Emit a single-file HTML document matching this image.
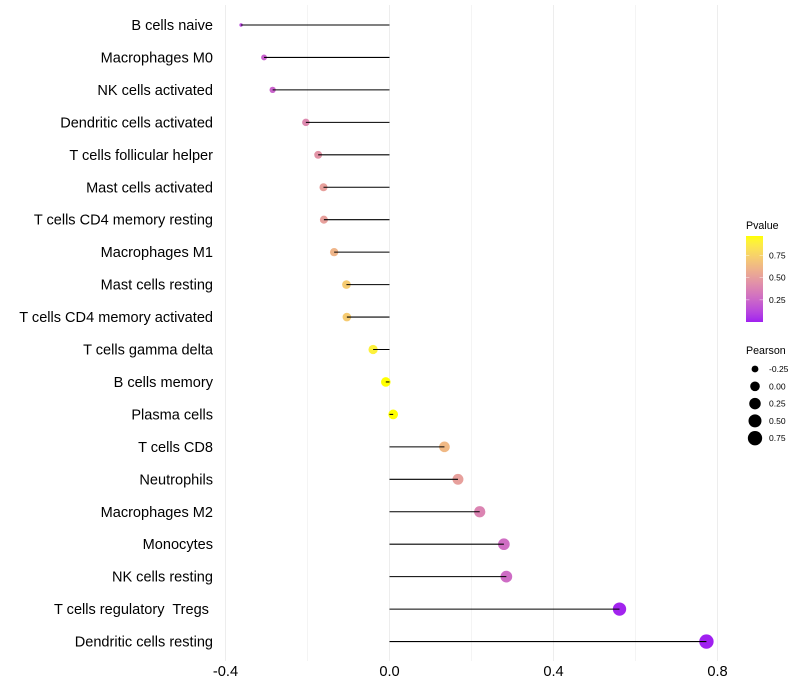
<!DOCTYPE html>
<html>
<head>
<meta charset="utf-8">
<title>Immune cell correlation lollipop chart</title>
<style>
html,body{margin:0;padding:0;background:#fff;width:800px;height:700px;overflow:hidden}
svg{display:block;font-family:"Liberation Sans",Arial,sans-serif}
</style>
</head>
<body>
<svg id="chart" width="800" height="700" viewBox="0 0 800 700" xmlns="http://www.w3.org/2000/svg">
<defs><linearGradient id="pgrad" x1="0" y1="1" x2="0" y2="0"></linearGradient></defs>
</svg>
<script>
const categories = ["B cells naive","Macrophages M0","NK cells activated","Dendritic cells activated","T cells follicular helper","Mast cells activated","T cells CD4 memory resting","Macrophages M1","Mast cells resting","T cells CD4 memory activated","T cells gamma delta","B cells memory","Plasma cells","T cells CD8","Neutrophils","Macrophages M2","Monocytes","NK cells resting","T cells regulatory  Tregs ","Dendritic cells resting"];
const pearson = [-0.362,-0.306,-0.285,-0.204,-0.174,-0.161,-0.160,-0.135,-0.105,-0.104,-0.040,-0.009,0.009,0.134,0.167,0.220,0.279,0.285,0.561,0.773];
const pvalues = [0.12,0.22,0.23,0.40,0.45,0.51,0.51,0.61,0.72,0.72,0.90,0.97,0.97,0.63,0.51,0.38,0.28,0.27,0.01,0.00];
const xTicks = [-0.4,0,0.4,0.8];
const xTickLabels = ["-0.4","0.0","0.4","0.8"];
const xMinorTicks = [-0.2,0.2,0.6];
const pTicks = [0.25,0.5,0.75];
const pTickLabels = ["0.25","0.50","0.75"];
const sizeBreaks = [-0.25,0,0.25,0.5,0.75];
const sizeLabels = ["-0.25","0.00","0.25","0.50","0.75"];

const svg = document.getElementById('chart');
const NS = 'http://www.w3.org/2000/svg';
function mk(tag, attrs, parent){
  const e = document.createElementNS(NS, tag);
  for (const k in attrs) e.setAttribute(k, attrs[k]);
  (parent || svg).appendChild(e);
  return e;
}
const xScale = v => 389.5 + v * 410;
const yScale = i => 25 + i * 32.45;
/* area scale: radius grows with the square root of the rescaled value */
const SIZE_MIN = -0.362, SIZE_MAX = 0.773;
const sizeScale = v => {
  const t = Math.min(1, Math.max(0, (v - SIZE_MIN) / (SIZE_MAX - SIZE_MIN)));
  return 1.7 + 5.5 * Math.sqrt(t);
};

/* colour: Lab interpolation purple -> yellow */
const P_MIN = 0, P_MAX = 0.97;
function rgb2lab(r,g,b){
  const f=c=>{c/=255;return c>0.04045?Math.pow((c+0.055)/1.055,2.4):c/12.92};
  const R=f(r),G=f(g),B=f(b);
  const X=(0.4124*R+0.3576*G+0.1805*B)/0.95047,Y=0.2126*R+0.7152*G+0.0722*B,Z=(0.0193*R+0.1192*G+0.9505*B)/1.08883;
  const h=t=>t>0.008856?Math.cbrt(t):7.787*t+16/116;
  return [116*h(Y)-16,500*(h(X)-h(Y)),200*(h(Y)-h(Z))];
}
function lab2rgb(L,a,b){
  const fy=(L+16)/116,fx=fy+a/500,fz=fy-b/200;
  const h=t=>t*t*t>0.008856?t*t*t:(t-16/116)/7.787;
  const X=h(fx)*0.95047,Y=h(fy),Z=h(fz)*1.08883;
  const g=c=>{c=c<=0.0031308?12.92*c:1.055*Math.pow(c,1/2.4)-0.055;return Math.round(Math.min(1,Math.max(0,c))*255)};
  return 'rgb('+g(3.2406*X-1.5372*Y-0.4986*Z)+','+g(-0.9689*X+1.8758*Y+0.0415*Z)+','+g(0.0557*X-0.2040*Y+1.0570*Z)+')';
}
const labLow = rgb2lab(160,32,240), labHigh = rgb2lab(255,255,0);
function colorScale(p){
  const t = Math.min(1, Math.max(0, (p - P_MIN) / (P_MAX - P_MIN)));
  return lab2rgb(labLow[0]+(labHigh[0]-labLow[0])*t, labLow[1]+(labHigh[1]-labLow[1])*t, labLow[2]+(labHigh[2]-labLow[2])*t);
}

/* grid */
xMinorTicks.forEach(v => {
  const l = mk('line',{x1:xScale(v),x2:xScale(v),y1:5,y2:661,stroke:'#f4f4f4','stroke-width':1});
  
  
});
xTicks.forEach(v => {
  const l = mk('line',{x1:xScale(v),x2:xScale(v),y1:5,y2:661,stroke:'#ededed','stroke-width':1});
  
  
});

/* marks */
categories.forEach((c,i) => {
  const cx = xScale(pearson[i]), cy = yScale(i);
  const dot = mk('circle',{cx:cx,cy:cy,r:sizeScale(pearson[i]),fill:colorScale(pvalues[i])});
  
  
  const seg = mk('line',{x1:xScale(0),x2:cx,y1:cy,y2:cy,stroke:'#000','stroke-width':1.07});
  
  
  const t = mk('text',{x:213,y:cy+5,'text-anchor':'end','font-size':'14.55',fill:'#000','xml:space':'preserve'});
  t.style.whiteSpace = 'pre';
  t.textContent = c;
  
  
});

/* x tick labels */
xTicks.forEach((v,i) => {
  const t = mk('text',{x:xScale(v),y:676,'text-anchor':'middle','font-size':'14.67',fill:'#000'});
  t.textContent = xTickLabels[i];
  
  
});

/* colour legend */
const grad = document.getElementById('pgrad');
for (let s = 0; s <= 20; s++) {
  mk('stop',{offset:(s*5)+'%','stop-color':colorScale(P_MIN + (P_MAX-P_MIN)*s/20)},grad);
}
const pTitle = mk('text',{x:746,y:229,'font-size':'10.67',fill:'#000'});
pTitle.textContent = 'Pvalue';


const bar = mk('rect',{x:746,y:236,width:17,height:86,fill:'url(#pgrad)'});


const pY = p => 322 - (p - P_MIN) / (P_MAX - P_MIN) * 86;
pTicks.forEach((p,i) => {
  const a = mk('line',{x1:746,x2:749.4,y1:pY(p),y2:pY(p),stroke:'#fff','stroke-opacity':0.7,'stroke-width':0.6});
  
  
  const b = mk('line',{x1:759.6,x2:763,y1:pY(p),y2:pY(p),stroke:'#fff','stroke-opacity':0.7,'stroke-width':0.6});
  
  
  const t = mk('text',{x:769,y:pY(p)+3,'font-size':'8.53',fill:'#000'});
  t.textContent = pTickLabels[i];
  
  
});

/* size legend */
const sTitle = mk('text',{x:746,y:354,'font-size':'10.67',fill:'#000'});
sTitle.textContent = 'Pearson';


sizeBreaks.forEach((v,i) => {
  const cy = 369 + i * 17.3;
  const dot = mk('circle',{cx:755,cy:cy,r:sizeScale(v),fill:'#000'});
  
  
  const t = mk('text',{x:769,y:cy+3,'font-size':'8.53',fill:'#000'});
  t.textContent = sizeLabels[i];
  
  
});
</script>
</body>
</html>
